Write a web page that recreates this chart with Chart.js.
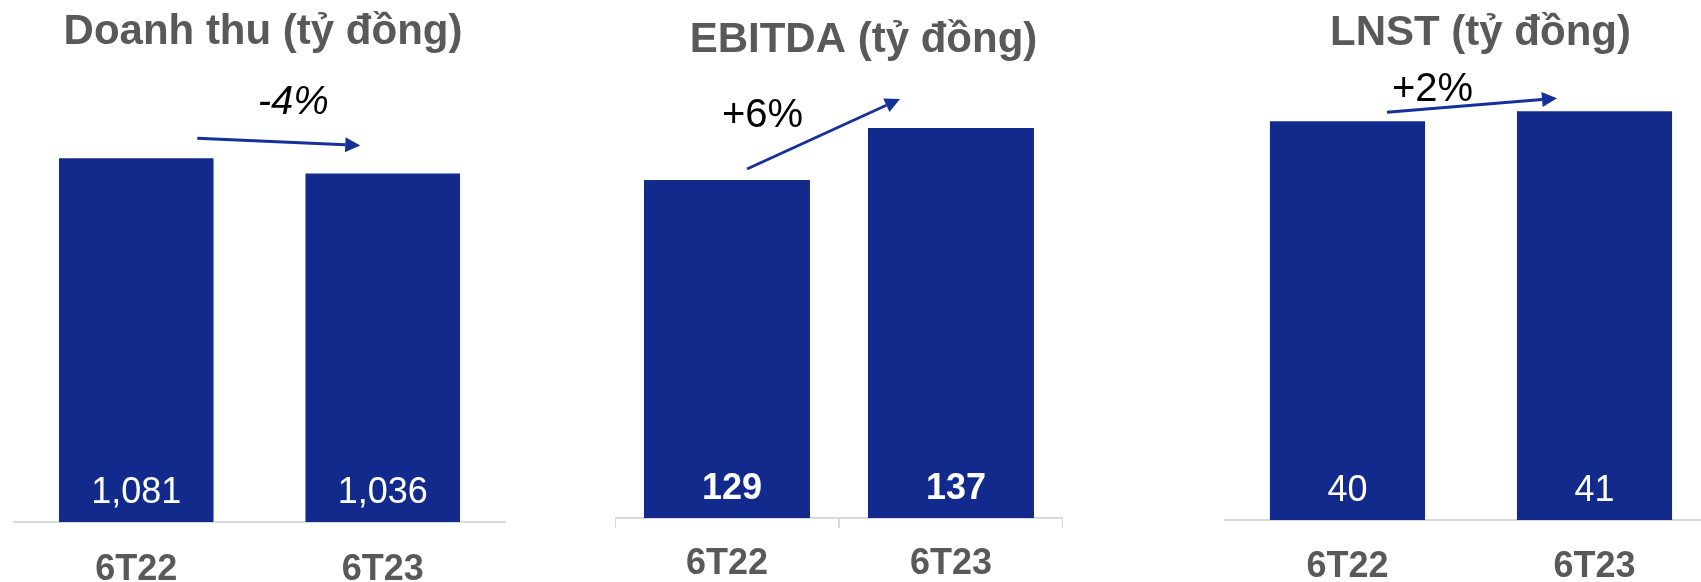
<!DOCTYPE html>
<html>
<head>
<meta charset="utf-8">
<script src="https://cdn.jsdelivr.net/npm/chart.js@4/dist/chart.umd.min.js"></script>
<style>
  html, body { margin: 0; padding: 0; background: #ffffff; overflow: hidden; }
  #wrap { position: relative; width: 1701px; height: 582px; overflow: hidden; }
  canvas { position: absolute; top: 0; }
</style>
</head>
<body>
<div id="wrap"></div>
<script>
// chart data
let categories = ['6T22', '6T23'];
let panelTitles = ['Doanh thu (tỷ đồng)', 'EBITDA (tỷ đồng)', 'LNST (tỷ đồng)'];
let revenue = [1081, 1036];
let ebitda = [129, 137];
let profit = [40, 41];
let growthLabels = ['-4%', '+6%', '+2%'];

let barColor = '#112a8c';
let arrowColor = '#16309a';
let greyText = '#595959';
let axisGrey = '#d9d9d9';
let fontFamily = '"Liberation Sans", Arial, Helvetica, sans-serif';

/*******************************************************************/

// layout of the three panels
let panels = [
  {
    values: revenue, title: panelTitles[0], growth: growthLabels[0],
    left: 13, width: 493, axisHeight: 60, padTop: 51, yMin: 0, yMax: 1400,
    barPct: 0.627, tickMarks: false, tickPad: 26,
    titleDx: 3.5, titleY: 44,
    valueBold: false, valueDx: 0,
    arrow: [61, -20, -22.5, -28], growthDx: 14.5, growthDy: -28, italic: true
  },
  {
    values: ebitda, title: panelTitles[1], growth: growthLabels[1],
    left: 615, width: 448, axisHeight: 64, padTop: 43.5, yMin: 77, yMax: 150,
    barPct: 0.741, tickMarks: true, tickPad: 14.5,
    titleDx: 24.5, titleY: 51.5,
    valueBold: true, valueDx: 5,
    arrow: [20, -11, -51, -29], growthDx: -61, growthDy: -7, italic: false
  },
  {
    values: profit, title: panelTitles[2], growth: growthLabels[2],
    left: 1224, width: 494, axisHeight: 62, padTop: 21.5, yMin: 0, yMax: 50,
    barPct: 0.628, tickMarks: false, tickPad: 25,
    titleDx: 9.5, titleY: 45,
    valueBold: false, valueDx: 0,
    arrow: [39.5, -9, -37.5, -13], growthDx: -39.5, growthDy: -4, italic: false
  }
];

// plugin: title, value labels, growth arrow
let annotate = {
  id: 'annotate',
  afterDatasetsDraw(chart, args, opts) {
    let ctx = chart.ctx;
    let area = chart.chartArea;
    let bars = chart.getDatasetMeta(0).data;
    let values = chart.data.datasets[0].data;
    let p = opts.panel;
    ctx.save();

    // title
    ctx.font = 'bold 42px ' + fontFamily;
    ctx.fillStyle = greyText;
    ctx.textAlign = 'center';
    ctx.textBaseline = 'alphabetic';
    ctx.fillText(p.title, (area.left + area.right) / 2 + p.titleDx, p.titleY);

    // values inside bars (base may sit below the clipped axis)
    ctx.font = (p.valueBold ? 'bold ' : '') + '36px ' + fontFamily;
    ctx.fillStyle = '#ffffff';
    bars.forEach((bar, i) => {
      let base = Math.min(bar.base, area.bottom);
      ctx.fillText(values[i].toLocaleString('en-US'), bar.x + p.valueDx, base - 19);
    });

    // arrow from bar 1 to bar 2
    let x0 = bars[0].x + p.arrow[0], y0 = bars[0].y + p.arrow[1];
    let x1 = bars[1].x + p.arrow[2], y1 = bars[1].y + p.arrow[3];
    let ang = Math.atan2(y1 - y0, x1 - x0);
    let hl = 15, hw = 7.5;
    let bx = x1 - hl * Math.cos(ang), by = y1 - hl * Math.sin(ang);
    ctx.strokeStyle = arrowColor;
    ctx.fillStyle = arrowColor;
    ctx.lineWidth = 3;
    ctx.beginPath();
    ctx.moveTo(x0, y0);
    ctx.lineTo(bx, by);
    ctx.stroke();
    ctx.beginPath();
    ctx.moveTo(x1, y1);
    ctx.lineTo(bx - hw * Math.sin(ang), by + hw * Math.cos(ang));
    ctx.lineTo(bx + hw * Math.sin(ang), by - hw * Math.cos(ang));
    ctx.closePath();
    ctx.fill();

    // growth label
    ctx.font = (p.italic ? 'italic ' : '') + '40px ' + fontFamily;
    ctx.fillStyle = '#000000';
    ctx.fillText(p.growth, (x0 + x1) / 2 + p.growthDx, (y0 + y1) / 2 + p.growthDy);
    ctx.restore();
  }
};

function makePanel(p) {
  let canvas = document.createElement('canvas');
  canvas.width = p.width;
  canvas.height = 582;
  canvas.style.left = p.left + 'px';
  canvas.style.width = p.width + 'px';
  canvas.style.height = '582px';
  document.getElementById('wrap').appendChild(canvas);

  new Chart(canvas.getContext('2d'), {
    type: 'bar',
    data: {
      labels: categories,
      datasets: [{
        data: p.values,
        backgroundColor: barColor,
        borderWidth: 0,
        categoryPercentage: 1,
        barPercentage: p.barPct
      }]
    },
    options: {
      responsive: false,
      animation: false,
      events: [],
      layout: { padding: { top: p.padTop, left: 0, right: 0, bottom: 0 } },
      plugins: {
        legend: { display: false },
        tooltip: { enabled: false },
        title: { display: false },
        annotate: { panel: p }
      },
      scales: {
        x: {
          offset: true,
          grid: {
            display: p.tickMarks,
            offset: true,
            drawOnChartArea: false,
            drawTicks: p.tickMarks,
            tickLength: 10,
            color: axisGrey,
            lineWidth: 2
          },
          border: { display: true, color: axisGrey, width: 2 },
          ticks: {
            color: greyText,
            padding: p.tickPad,
            font: { family: fontFamily, size: 36, weight: 'bold' }
          },
          afterFit(scale) { scale.height = p.axisHeight; }
        },
        y: {
          display: false,
          min: p.yMin,
          max: p.yMax
        }
      }
    },
    plugins: [annotate]
  });
}

panels.forEach(makePanel);
</script>
</body>
</html>
